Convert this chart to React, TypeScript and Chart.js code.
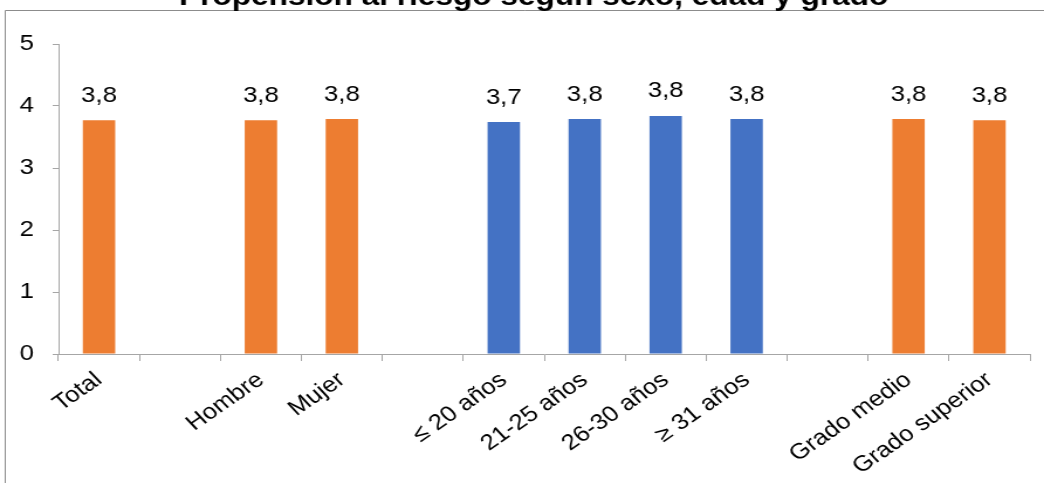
import React, { useEffect, useRef } from "react";
import { Chart, registerables } from "chart.js";

Chart.register(...registerables);

// Chart content
const TITLE = "Propensión al riesgo según sexo, edad y grado";
const categories = [
  "Total",
  "",
  "Hombre",
  "Mujer",
  "",
  "≤ 20 años",
  "21-25 años",
  "26-30 años",
  "≥ 31 años",
  "",
  "Grado medio",
  "Grado superior",
];
const values: (number | null)[] = [3.77, null, 3.77, 3.79, null, 3.74, 3.79, 3.84, 3.79, null, 3.79, 3.77];
const groups = ["total", "", "sexo", "sexo", "", "edad", "edad", "edad", "edad", "", "grado", "grado"];
const yTicks = [0, 1, 2, 3, 4, 5];

// Styling
const ORANGE = "#ED7D31";
const BLUE = "#4472C4";
const AXIS = "#A6A6A6";
const FONT = "'Liberation Sans', Arial, sans-serif";

// The chart is laid out on a narrower canvas and shown stretched horizontally.
const VIEW_W = 1044;
const VIEW_H = 483;
const STRETCH = 1.17;
const CANVAS_W = Math.round(VIEW_W / STRETCH);

const barColors = groups.map((g) => (g === "edad" ? BLUE : ORANGE));

const fmt = (v: number) => v.toFixed(1).replace(".", ",");

// Frame and title drawn behind the chart
const framePlugin = {
  id: "frame",
  beforeDraw(chart: Chart) {
    const ctx = chart.ctx;
    ctx.save();
    ctx.fillStyle = "#fff";
    ctx.fillRect(0, 0, chart.width, chart.height);
    ctx.strokeStyle = "#8c8c8c";
    ctx.lineWidth = 1;
    ctx.beginPath();
    ctx.moveTo(4.5, chart.height + 2);
    ctx.lineTo(4.5, 10.5);
    ctx.lineTo(chart.width + 2, 10.5);
    ctx.stroke();
    ctx.fillStyle = "#000";
    ctx.font = `bold 27px ${FONT}`;
    ctx.textAlign = "center";
    ctx.textBaseline = "alphabetic";
    ctx.fillText(TITLE, 456, 5);
    ctx.restore();
  },
};

// Value labels above each bar
const valueLabelPlugin = {
  id: "valueLabels",
  afterDatasetsDraw(chart: Chart) {
    const ctx = chart.ctx;
    const meta = chart.getDatasetMeta(0);
    ctx.save();
    ctx.fillStyle = "#000";
    ctx.font = `22px ${FONT}`;
    ctx.textAlign = "center";
    ctx.textBaseline = "alphabetic";
    meta.data.forEach((el: any, i: number) => {
      const v = values[i];
      if (v == null) return;
      ctx.fillText(fmt(v), el.x, el.y - 18.5);
    });
    ctx.restore();
  },
};

export default function App() {
  const canvasRef = useRef<HTMLCanvasElement | null>(null);

  useEffect(() => {
    if (!canvasRef.current) return;
    const chart = new Chart(canvasRef.current, {
      type: "bar",
      data: {
        labels: categories,
        datasets: [
          {
            data: values,
            backgroundColor: barColors,
            barPercentage: 0.4,
            categoryPercentage: 1,
          },
        ],
      },
      options: {
        animation: false,
        responsive: false,
        layout: { padding: { top: 44, right: 12, left: 0, bottom: 0 } },
        plugins: {
          legend: { display: false },
          tooltip: { enabled: false },
          title: { display: false },
        },
        scales: {
          x: {
            offset: true,
            grid: {
              offset: true,
              drawOnChartArea: false,
              drawTicks: true,
              tickLength: 7,
              color: AXIS,
            },
            border: { display: true, color: AXIS, width: 1 },
            ticks: {
              autoSkip: false,
              minRotation: 39,
              maxRotation: 39,
              padding: 6,
              color: "#000",
              font: { family: FONT, size: 22 },
            },
            afterFit(scale: any) {
              scale.height = 129;
              scale.paddingLeft = 0;
              scale.paddingRight = 0;
            },
          },
          y: {
            min: 0,
            max: 5,
            afterBuildTicks(scale: any) {
              scale.ticks = yTicks.map((v) => ({ value: v }));
            },
            grid: {
              drawOnChartArea: false,
              drawTicks: true,
              tickLength: 5,
              color: AXIS,
            },
            border: { display: true, color: AXIS, width: 1 },
            ticks: {
              padding: 16,
              color: "#000",
              font: { family: FONT, size: 22 },
            },
            afterFit(scale: any) {
              scale.width = 50;
              scale.paddingTop = 0;
              scale.paddingBottom = 0;
            },
          },
        },
      },
      plugins: [framePlugin, valueLabelPlugin],
    });
    return () => chart.destroy();
  }, []);

  return (
    <div style={{ position: "fixed", left: 0, top: 0, width: VIEW_W, height: VIEW_H, background: "#fff" }}>
      <canvas
        ref={canvasRef}
        width={CANVAS_W}
        height={VIEW_H}
        style={{ display: "block", width: `${VIEW_W}px`, height: `${VIEW_H}px` }}
      />
    </div>
  );
}
